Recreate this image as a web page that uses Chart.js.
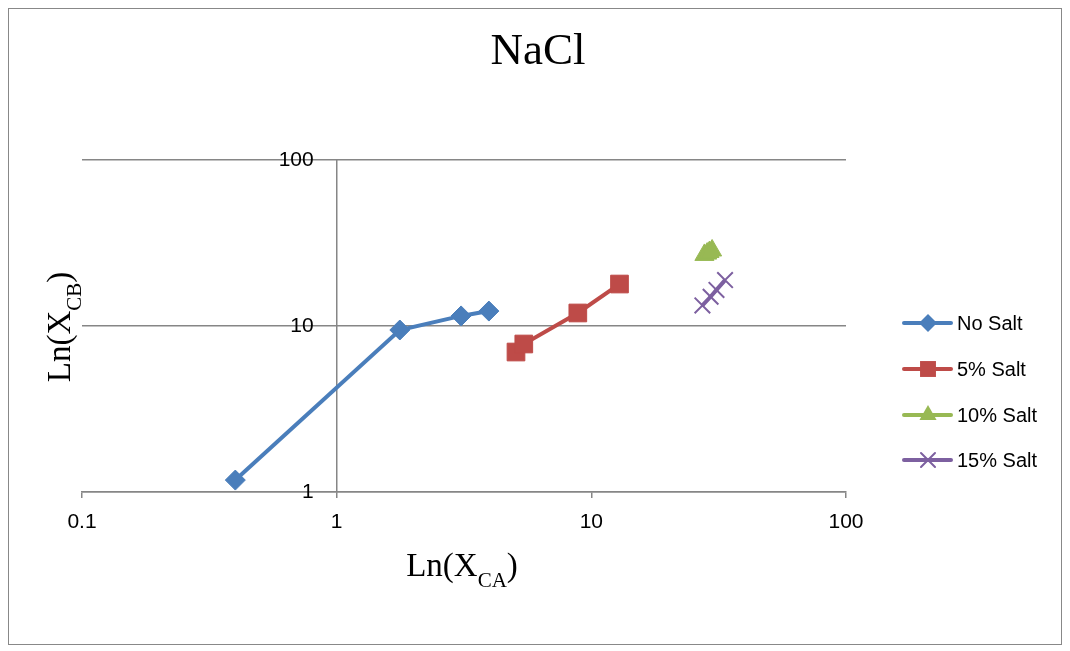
<!DOCTYPE html>
<html>
<head>
<meta charset="utf-8">
<script src="https://cdn.jsdelivr.net/npm/chart.js@4.4.0/dist/chart.umd.min.js"></script>
<style>
  html, body { margin: 0; padding: 0; background: #fff; }
  #wrap { width: 1070px; height: 651px; }
</style>
</head>
<body>
<div id="wrap"><canvas id="naclChart" width="1070" height="651"></canvas></div>
<script>
// values
const seriesNames = ['No Salt', '5% Salt', '10% Salt', '15% Salt'];

const noSaltX = [0.40, 1.77, 3.08, 3.96];
const noSaltY = [1.18, 9.46, 11.5, 12.3];

const salt5X = [5.06, 5.43, 8.85, 12.9];
const salt5Y = [6.97, 7.79, 11.98, 17.9];

const salt10X = [27.8, 28.5, 29.1, 29.8];
const salt10Y = [26.8, 27.3, 27.9, 28.5];

const salt15X = [27.3, 29.4, 31.0, 33.5];
const salt15Y = [13.3, 15.0, 16.5, 18.9];

const xTicks = [0.1, 1, 10, 100];
const yTicks = [1, 10, 100];

const colors = ['#4A7EBB', '#BE4B48', '#98B954', '#7D60A0'];
const styles = ['rectRot', 'rect', 'triangle', 'crossRot'];
const radii = [10, 12.5, 11, 11];

function zip(xs, ys) {
    return xs.map((x, i) => ({ x: x, y: ys[i] }));
}

const allX = [noSaltX, salt5X, salt10X, salt15X];
const allY = [noSaltY, salt5Y, salt10Y, salt15Y];

const datasets = seriesNames.map((name, i) => ({
    label: name,
    data: zip(allX[i], allY[i]),
    showLine: true,
    borderColor: colors[i],
    backgroundColor: colors[i],
    borderWidth: 4,
    pointStyle: styles[i],
    pointRadius: radii[i],
    pointHoverRadius: radii[i],
    pointBackgroundColor: colors[i],
    pointBorderColor: colors[i],
    pointBorderWidth: i === 3 ? 2 : 1
}));

// marker drawn for the legend
function marker(ctx, style, r, x, y, color) {
    ctx.save();
    ctx.fillStyle = color;
    ctx.strokeStyle = color;
    ctx.beginPath();
    if (style === 'rectRot') {
        ctx.moveTo(x, y - r); ctx.lineTo(x + r, y); ctx.lineTo(x, y + r); ctx.lineTo(x - r, y);
        ctx.closePath(); ctx.fill();
    } else if (style === 'rect') {
        const s = r * Math.SQRT1_2;
        ctx.rect(x - s, y - s, 2 * s, 2 * s); ctx.fill();
    } else if (style === 'triangle') {
        ctx.moveTo(x, y - r); ctx.lineTo(x + 0.866 * r, y + 0.5 * r); ctx.lineTo(x - 0.866 * r, y + 0.5 * r);
        ctx.closePath(); ctx.fill();
    } else {
        const d = r * Math.SQRT1_2;
        ctx.lineWidth = 2;
        ctx.moveTo(x - d, y - d); ctx.lineTo(x + d, y + d);
        ctx.moveTo(x + d, y - d); ctx.lineTo(x - d, y + d);
        ctx.stroke();
    }
    ctx.restore();
}

// text with a subscript part, e.g. Ln(X_CB)
function subText(ctx, cx, baseY, pre, sub, post) {
    const big = '33px "Liberation Serif"';
    const small = '21px "Liberation Serif"';
    ctx.font = big;
    const w1 = ctx.measureText(pre).width;
    const w3 = ctx.measureText(post).width;
    ctx.font = small;
    const w2 = ctx.measureText(sub).width;
    let x = cx - (w1 + w2 + w3) / 2;
    ctx.textAlign = 'left';
    ctx.textBaseline = 'alphabetic';
    ctx.fillStyle = '#000';
    ctx.font = big;
    ctx.fillText(pre, x, baseY);
    x += w1;
    ctx.font = small;
    ctx.fillText(sub, x, baseY + 11);
    x += w2;
    ctx.font = big;
    ctx.fillText(post, x, baseY);
}

const decorations = {
    id: 'decorations',
    beforeDraw(chart) {
        const ctx = chart.ctx;
        ctx.save();
        ctx.fillStyle = '#fff';
        ctx.fillRect(0, 0, chart.width, chart.height);
        ctx.strokeStyle = '#888';
        ctx.lineWidth = 1;
        ctx.strokeRect(8.5, 8.5, 1053, 636);
        ctx.restore();
    },
    afterDraw(chart) {
        const ctx = chart.ctx;
        const xs = chart.scales.x, ys = chart.scales.y;
        ctx.save();
        // y tick labels sit left of the axis that crosses at x = 1
        ctx.fillStyle = '#000';
        ctx.font = '21px "Liberation Sans"';
        ctx.textAlign = 'right';
        ctx.textBaseline = 'middle';
        const axisX = xs.getPixelForValue(1);
        yTicks.forEach(v => ctx.fillText(String(v), axisX - 23, ys.getPixelForValue(v)));
        // title
        ctx.font = '45px "Liberation Serif"';
        ctx.textAlign = 'center';
        ctx.textBaseline = 'alphabetic';
        ctx.fillText('NaCl', 538, 64);
        // axis titles
        subText(ctx, 462, 576, 'Ln(X', 'CA', ')');
        ctx.save();
        ctx.translate(70, 327);
        ctx.rotate(-Math.PI / 2);
        subText(ctx, 0, 0, 'Ln(X', 'CB', ')');
        ctx.restore();
        // legend
        const rows = [323, 369, 415, 460];
        chart.data.datasets.forEach((ds, i) => {
            const y = rows[i];
            ctx.strokeStyle = ds.borderColor;
            ctx.lineWidth = 4;
            ctx.lineCap = 'round';
            ctx.beginPath();
            ctx.moveTo(904, y);
            ctx.lineTo(951, y);
            ctx.stroke();
            marker(ctx, styles[i], radii[i] * 0.9, 928, y, ds.borderColor);
            ctx.fillStyle = '#000';
            ctx.font = '20px "Liberation Sans"';
            ctx.textAlign = 'left';
            ctx.textBaseline = 'middle';
            ctx.fillText(ds.label, 957, y + 1);
        });
        ctx.restore();
    }
};

const tickFont = { family: 'Liberation Sans', size: 21 };

const config = {
    type: 'scatter',
    data: { datasets: datasets },
    options: {
        responsive: false,
        animation: false,
        layout: { padding: { left: 82, right: 224, top: 160, bottom: 119 } },
        plugins: {
            legend: { display: false },
            title: { display: false },
            tooltip: { enabled: false }
        },
        scales: {
            x: {
                type: 'logarithmic',
                position: 'bottom',
                min: 0.1,
                max: 100,
                afterBuildTicks: s => { s.ticks = xTicks.map(v => ({ value: v })); },
                afterFit: s => { s.height = 40; },
                ticks: {
                    callback: v => String(v),
                    font: tickFont,
                    color: '#000',
                    padding: 12,
                    maxRotation: 0,
                    autoSkip: false
                },
                grid: { drawOnChartArea: false, drawTicks: true, tickLength: 6, color: '#868686', lineWidth: 1.5 },
                border: { display: true, color: '#868686', width: 1.5 }
            },
            y: {
                type: 'logarithmic',
                position: { x: 1 },
                min: 1,
                max: 100,
                afterBuildTicks: s => { s.ticks = yTicks.map(v => ({ value: v })); },
                ticks: { display: false },
                grid: { color: '#868686', lineWidth: 1.5, drawTicks: false },
                border: { display: true, color: '#868686', width: 1.5 }
            }
        }
    },
    plugins: [decorations]
};

const naclChart = new Chart(document.getElementById('naclChart'), config);
</script>
</body>
</html>
